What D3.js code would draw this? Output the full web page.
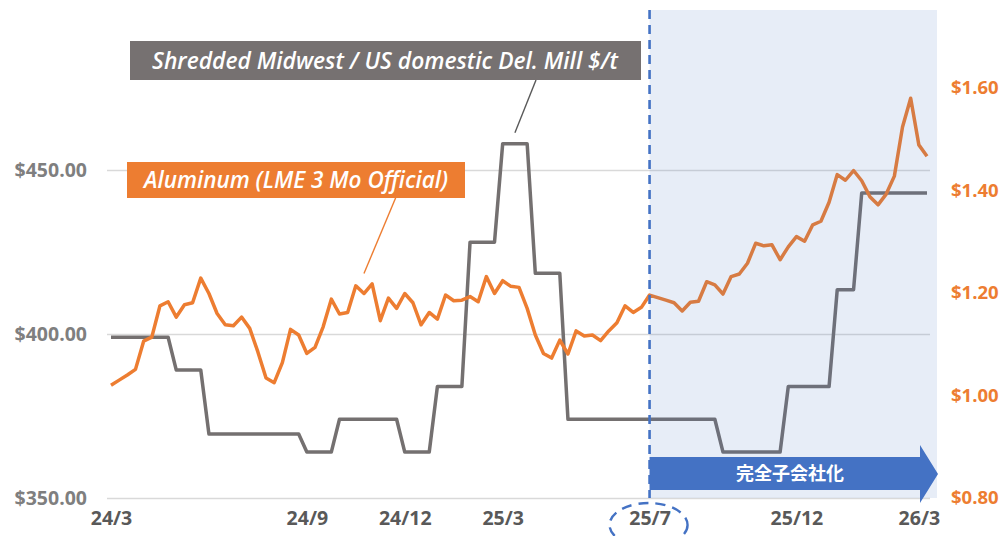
<!DOCTYPE html>
<html>
<head>
<meta charset="utf-8">
<script src="https://cdn.jsdelivr.net/npm/d3@7"></script>
<style>
  body { margin: 0; background: #fff; }
  svg { display: block; font-family: "Open Sans", "Noto Sans", sans-serif; }
</style>
</head>
<body>
<div id="chart"></div>
<script>
// x categories (roughly weekly points), labels shown on some of them
var xLabels = ["24/3", "24/9", "24/12", "25/3", "25/7", "25/12", "26/3"];
var xLabelIdx = [0, 24, 36, 48, 66, 84, 99];
var switchIdx = 66; // 25/7 -> 完全子会社化

// Shredded Midwest / US domestic Del. Mill $/t (left axis)
var scrap = [
  399, 399, 399, 399, 399, 399, 399, 399,
  389, 389, 389, 389,
  369.5, 369.5, 369.5, 369.5, 369.5, 369.5, 369.5, 369.5, 369.5, 369.5, 369.5, 369.5,
  364, 364, 364, 364,
  374, 374, 374, 374, 374, 374, 374, 374,
  364, 364, 364, 364,
  384, 384, 384, 384,
  428, 428, 428, 428,
  458, 458, 458, 458,
  418.5, 418.5, 418.5, 418.5,
  374, 374, 374, 374, 374, 374, 374, 374, 374, 374, 374, 374, 374, 374, 374, 374, 374, 374, 374,
  364, 364, 364, 364, 364, 364, 364, 364,
  384, 384, 384, 384, 384, 384,
  413.5, 413.5, 413.5,
  443, 443, 443, 443, 443, 443, 443, 443, 443
];

// Aluminum (LME 3 Mo Official) $/lb (right axis)
var aluminum = [
  1.020, 1.030, 1.040, 1.051, 1.106, 1.114, 1.175, 1.183, 1.153, 1.177,
  1.181, 1.229, 1.199, 1.160, 1.138, 1.136, 1.153, 1.131, 1.085, 1.034,
  1.025, 1.064, 1.129, 1.118, 1.082, 1.094, 1.134, 1.188, 1.159, 1.162,
  1.214, 1.199, 1.218, 1.146, 1.190, 1.170, 1.199, 1.181, 1.138, 1.162,
  1.149, 1.196, 1.185, 1.186, 1.193, 1.183, 1.232, 1.199, 1.224, 1.213,
  1.211, 1.170, 1.118, 1.082, 1.073, 1.108, 1.081, 1.126, 1.116, 1.118,
  1.107, 1.126, 1.142, 1.175, 1.162, 1.172, 1.196, 1.191, 1.186, 1.181,
  1.165, 1.182, 1.184, 1.222, 1.216, 1.198, 1.232, 1.237, 1.258, 1.297,
  1.292, 1.294, 1.265, 1.290, 1.310, 1.301, 1.333, 1.340, 1.377, 1.431,
  1.420, 1.439, 1.419, 1.388, 1.372, 1.393, 1.428, 1.524, 1.580, 1.489,
  1.467
];

var leftTicks = [350, 400, 450];
var rightTicks = [0.8, 1.0, 1.2, 1.4, 1.6];

var scrapName = "Shredded Midwest / US domestic Del. Mill $/t";
var alName = "Aluminum (LME 3 Mo Official)";
var eventName = "完全子会社化";

var width = 1004, height = 536;
var orange = "#ED7D31", grey = "#747070", blue = "#4472C4";

var svg = d3.select("#chart").append("svg")
  .attr("width", width).attr("height", height);

var x = d3.scaleLinear().domain([0, scrap.length - 1]).range([111, 927]);
var yL = d3.scaleLinear().domain([350, 450]).range([498, 170]);
var yR = d3.scaleLinear().domain([0.8, 1.6]).range([498, 88]);

// gridlines
svg.append("g")
  .attr("transform", "translate(107,0)")
  .call(d3.axisLeft(yL).tickValues(leftTicks).tickSize(-823).tickFormat(""))
  .call(function(g) {
    g.select(".domain").remove();
    g.selectAll("line").attr("stroke", "#D9D9D9").attr("stroke-width", 1.3);
  });

// left axis labels
svg.append("g")
  .attr("transform", "translate(87,0)")
  .call(d3.axisLeft(yL).tickValues(leftTicks).tickSize(0).tickPadding(0)
    .tickFormat(function(d) { return "$" + d3.format(".2f")(d); }))
  .call(function(g) {
    g.select(".domain").remove();
    g.selectAll("text").attr("fill", "#7F7F7F")
      .style("font-size", "19.5px").style("font-weight", 700)
      .style("font-family", "'Open Sans', sans-serif");
  });

// right axis labels
svg.append("g")
  .attr("transform", "translate(951,0)")
  .call(d3.axisRight(yR).tickValues(rightTicks).tickSize(0).tickPadding(0)
    .tickFormat(function(d) { return "$" + d3.format(".2f")(d); }))
  .call(function(g) {
    g.select(".domain").remove();
    g.selectAll("text").attr("fill", orange)
      .style("font-size", "18.5px").style("font-weight", 700)
      .style("font-family", "'Open Sans', sans-serif");
  });

// bottom axis labels
svg.append("g")
  .attr("transform", "translate(0,511)")
  .call(d3.axisBottom(x).tickValues(xLabelIdx).tickSize(0).tickPadding(0)
    .tickFormat(function(d) { return xLabels[xLabelIdx.indexOf(d)]; }))
  .call(function(g) {
    g.select(".domain").remove();
    g.selectAll("text").attr("fill", "#595959")
      .style("font-size", "19.5px").style("font-weight", 700)
      .style("font-family", "'Open Sans', sans-serif");
  });

// series lines
var lineL = d3.line().x(function(d, i) { return x(i); }).y(function(d) { return yL(d); });
var lineR = d3.line().x(function(d, i) { return x(i); }).y(function(d) { return yR(d); });

svg.append("path").datum(scrap)
  .attr("d", lineL).attr("fill", "none")
  .attr("stroke", grey).attr("stroke-width", 3.5).attr("stroke-linejoin", "round");

svg.append("path").datum(aluminum)
  .attr("d", lineR).attr("fill", "none")
  .attr("stroke", orange).attr("stroke-width", 3.5).attr("stroke-linejoin", "round");

// shaded period after 25/7
var xs = x(switchIdx);
svg.append("rect")
  .attr("x", xs).attr("y", 10).attr("width", 937 - xs).attr("height", 488)
  .attr("fill", blue).attr("fill-opacity", 0.13);

svg.append("line")
  .attr("x1", xs).attr("x2", xs).attr("y1", 10).attr("y2", 498)
  .attr("stroke", blue).attr("stroke-width", 2.6).attr("stroke-dasharray", "9,6");

// dashed ellipse around 25/7
svg.append("ellipse")
  .attr("cx", xs - 1).attr("cy", 525).attr("rx", 39).attr("ry", 22)
  .attr("fill", "none").attr("stroke", blue).attr("stroke-width", 2.4)
  .attr("stroke-dasharray", "10,7");

// arrow
var arrow = [[xs, 457], [920, 457], [920, 445], [938, 474], [920, 503], [920, 490], [xs, 490]];
svg.append("path")
  .attr("d", d3.line()(arrow) + "Z")
  .attr("fill", blue);
svg.append("text")
  .attr("x", 790).attr("y", 474).attr("dy", "0.36em")
  .attr("text-anchor", "middle").attr("fill", "#fff")
  .style("font-family", "'Noto Sans CJK JP', sans-serif")
  .style("font-size", "18px").style("font-weight", 700)
  .text(eventName);

// callout boxes
function fitText(sel, w) {
  var len = sel.node().getComputedTextLength();
  var fs = parseFloat(sel.style("font-size"));
  sel.style("font-size", (fs * w / len) + "px");
}

// grey leader + box
svg.append("line")
  .attr("x1", 536).attr("y1", 80)
  .attr("x2", x(49.5)).attr("y2", yL(458) - 11)
  .attr("stroke", "#595959").attr("stroke-width", 1.4);
svg.append("rect")
  .attr("x", 130).attr("y", 41).attr("width", 511).attr("height", 39)
  .attr("fill", "#767171");
var t1 = svg.append("text")
  .attr("x", 385).attr("y", 61).attr("dy", "0.35em")
  .attr("text-anchor", "middle").attr("fill", "#fff")
  .style("font-style", "italic").style("font-weight", 600).style("font-size", "20px")
  .text(scrapName);
fitText(t1, 466);

// orange leader + box
svg.append("line")
  .attr("x1", 396).attr("y1", 197)
  .attr("x2", x(31)).attr("y2", yR(aluminum[31]) - 20)
  .attr("stroke", orange).attr("stroke-width", 1.4);
svg.append("rect")
  .attr("x", 127).attr("y", 162).attr("width", 338).attr("height", 36)
  .attr("fill", orange);
var t2 = svg.append("text")
  .attr("x", 296).attr("y", 180).attr("dy", "0.35em")
  .attr("text-anchor", "middle").attr("fill", "#fff")
  .style("font-style", "italic").style("font-weight", 600).style("font-size", "20px")
  .text(alName);
fitText(t2, 304);
</script>
</body>
</html>
